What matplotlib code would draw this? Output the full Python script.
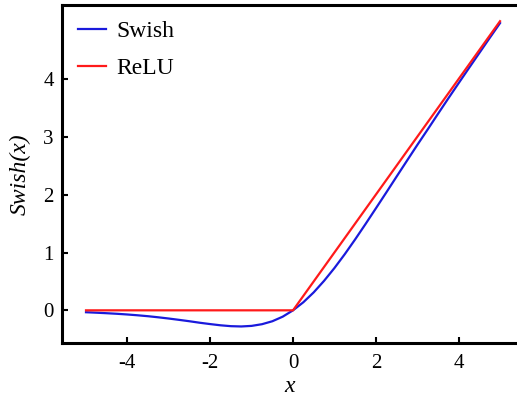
import numpy as np
import matplotlib
matplotlib.use('Agg')
import matplotlib.pyplot as plt

# values
x_swish = [-5.0, -4.75, -4.5, -4.25, -4.0, -3.75, -3.5, -3.25, -3.0, -2.75,
           -2.5, -2.25, -2.0, -1.75, -1.5, -1.25, -1.0, -0.75, -0.5, -0.25,
           0.0, 0.25, 0.5, 0.75, 1.0, 1.25, 1.5, 1.75, 2.0, 2.25,
           2.5, 2.75, 3.0, 3.25, 3.5, 3.75, 4.0, 4.25, 4.5, 4.75, 5.0]
y_swish = [-0.033, -0.041, -0.050, -0.060, -0.072, -0.086, -0.102, -0.121, -0.142, -0.165,
           -0.189, -0.215, -0.238, -0.259, -0.274, -0.279, -0.269, -0.240, -0.189, -0.110,
           0.0, 0.140, 0.311, 0.510, 0.731, 0.971, 1.226, 1.491, 1.762, 2.035,
           2.311, 2.585, 2.858, 3.125, 3.396, 3.664, 3.928, 4.190, 4.450, 4.710, 4.967]
x_relu = [-5, 0, 5]
y_relu = [0, 0, 5]

xticks = [-4, -2, 0, 2, 4]
yticks = [0, 1, 2, 3, 4]

plt.rcParams['font.family'] = ['Liberation Serif', 'DejaVu Serif']

fig = plt.figure( figsize = ( 5.17, 3.99 ), dpi = 100 )
ax = fig.add_axes( [ 62 / 517, 56 / 399, 1 - 62 / 517, 338 / 399 ] )

ax.plot( x_swish, y_swish, color = '#1a1adc', lw = 1.6, label = 'Swish' )
ax.plot( x_relu, y_relu, color = '#ff1a1a', lw = 1.6, label = 'ReLU' )

ax.set_xlim( -5.58, 5.41 )
ax.set_ylim( -0.565, 5.28 )
ax.set_xticks( xticks )
ax.set_yticks( yticks )
ax.set_xticklabels( [ str( v ) for v in xticks ] )
ax.tick_params( direction = 'in', length = 4, width = 1.5, labelsize = 15 )
ax.tick_params( axis = 'x', pad = 8 )
ax.tick_params( axis = 'y', pad = 6 )

for side in [ 'left', 'bottom', 'top' ]:
    ax.spines[ side ].set_linewidth( 2.2 )
ax.spines[ 'right' ].set_visible( False )

ax.set_xlabel( 'x', fontsize = 17, style = 'italic', labelpad = 2 )
ax.set_ylabel( 'Swish(x)', fontsize = 17, style = 'italic', labelpad = 9 )

ax.legend( loc = 'upper left', frameon = False, fontsize = 17,
           handlelength = 1.2, handletextpad = 0.45, labelspacing = 0.66,
           borderaxespad = 0.27 )

fig.savefig( 'out.png', dpi = 100 )
